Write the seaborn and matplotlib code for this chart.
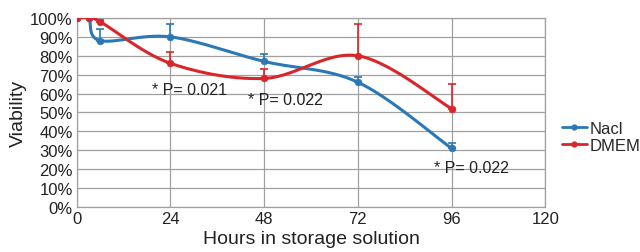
import numpy as np
import matplotlib
matplotlib.use("Agg")
import matplotlib.pyplot as plt
import seaborn as sns

# values
hours = [0, 3, 6, 24, 48, 72, 96]
nacl = [100, 100, 88, 90, 77, 66, 31]
nacl_err = [0, 1, 6, 7, 4, 3, 3]
dmem = [100, 100, 98, 76, 68, 80, 52]
dmem_err = [0, 0, 1, 6, 5, 17, 13]
notes = [("* P= 0.021", 19.2, 62.0), ("* P= 0.022", 43.8, 57.0), ("* P= 0.022", 91.5, 21.0)]

BLUE = "#2b78b6"
RED = "#d8262b"

sns.set_theme(style="white")
plt.rcParams["font.family"] = ["Liberation Sans", "DejaVu Sans"]


def smooth(xs, ys, sx=3.9, sy=1.89, n=30):
    # excel-like smoothed line (bezier, tension 1/6) in screen units
    p = np.column_stack([np.array(xs) * sx, np.array(ys) * sy])
    out = []
    for i in range(len(p) - 1):
        p0 = p[max(i - 1, 0)]
        p1 = p[i]
        p2 = p[i + 1]
        p3 = p[min(i + 2, len(p) - 1)]
        c1 = p1 + (p2 - p0) / 6
        c2 = p2 - (p3 - p1) / 6
        t = np.linspace(0, 1, n)[:, None]
        seg = (1 - t) ** 3 * p1 + 3 * (1 - t) ** 2 * t * c1 + 3 * (1 - t) * t ** 2 * c2 + t ** 3 * p2
        out.append(seg)
    out = np.vstack(out)
    return out[:, 0] / sx, out[:, 1] / sy


fig = plt.figure(figsize=(6.4, 2.53), dpi=100)
ax = fig.add_axes([0.120, 0.178, 0.732, 0.747])

for vals, errs, col, name in [(nacl, nacl_err, BLUE, "Nacl"), (dmem, dmem_err, RED, "DMEM")]:
    sx, sy = smooth(hours, vals)
    ax.plot(sx, sy, color=col, lw=2.2, zorder=4)
    ax.errorbar(hours, vals, yerr=[np.zeros(len(errs)), errs], fmt="none",
                ecolor=col, elinewidth=1.2, capsize=3, capthick=1.2, zorder=5)
    sns.scatterplot(x=hours, y=vals, color=col, s=24, edgecolor=col, ax=ax,
                    zorder=6, legend=False)
    ax.plot([], [], color=col, lw=2, marker="o", ms=3.5, label=name)

for txt, x, y in notes:
    ax.text(x, y, txt, fontsize=11.5, color="#222222", va="center", zorder=7)

ax.set_xlim(0, 120)
ax.set_ylim(0, 100)
ax.set_xticks(range(0, 121, 24))
ax.set_yticks(range(0, 101, 10))
ax.set_yticklabels([f"{v}%" for v in range(0, 101, 10)])
ax.grid(True, color="#a0a0a0", lw=0.9)
for s in ax.spines.values():
    s.set_color("#a0a0a0")
    s.set_linewidth(0.9)
ax.tick_params(axis="both", labelsize=12, colors="#222222", length=0, pad=3)
ax.set_xlabel("Hours in storage solution", fontsize=14, color="#222222", labelpad=3)
ax.set_ylabel("Viability", fontsize=14, color="#222222", labelpad=2)

ax.legend(loc="center left", bbox_to_anchor=(1.035, 0.37), frameon=False,
          fontsize=12, handlelength=1.5, handletextpad=0.15, borderpad=0,
          borderaxespad=0, labelspacing=0.1)

fig.savefig("out.png", dpi=100)
